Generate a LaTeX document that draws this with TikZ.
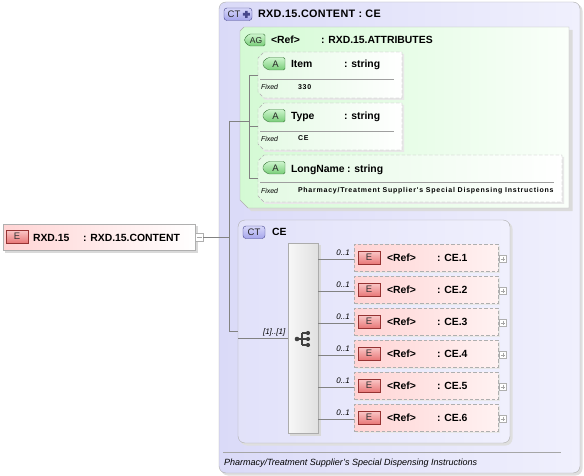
\documentclass[tikz,border=0pt]{standalone}
\usepackage{fontspec}
\setmainfont{Liberation Sans}
\newfontfamily\valfam[LetterSpace=11]{Liberation Sans}
\newfontfamily\ttlfam[LetterSpace=3]{Liberation Sans}
\usetikzlibrary{calc}
\definecolor{lavA}{RGB}{218,218,248}
\definecolor{lavB}{RGB}{240,240,253}
\definecolor{agA}{RGB}{212,250,212}
\definecolor{agB}{RGB}{250,255,250}
\definecolor{atA}{RGB}{228,250,228}
\definecolor{pinkA}{RGB}{255,212,212}
\definecolor{pinkB}{RGB}{255,242,242}
\definecolor{bdr}{RGB}{175,175,175}
\definecolor{ebA}{RGB}{232,120,120}
\definecolor{ebB}{RGB}{250,200,200}
\definecolor{ebD}{RGB}{150,50,50}
\definecolor{abA}{RGB}{120,205,120}
\definecolor{abB}{RGB}{205,245,205}
\definecolor{abD}{RGB}{60,120,60}
\definecolor{ctA}{RGB}{165,165,235}
\definecolor{ctB}{RGB}{215,215,250}
\definecolor{ctD}{RGB}{70,70,140}
\definecolor{cn}{RGB}{130,130,130}
\newcommand\hf{\fontsize{10.4}{13}\selectfont\bfseries}
\newcommand\ttlf{\ttlfam\fontsize{10.8}{13}\selectfont\bfseries}
\newcommand\fixf{\fontsize{7}{8}\selectfont\itshape}
\newcommand\valf{\valfam\fontsize{7}{8}\selectfont\bfseries}
\newcommand\occf{\fontsize{8}{9}\selectfont\itshape}
\newcommand\docf{\fontsize{9}{10}\selectfont\itshape}
\newcommand\bdgf{\fontsize{9.5}{10}\selectfont}
\tikzset{
  conn/.style={draw=cn, line width=0.6pt},
  lbl/.style={anchor=base west, inner sep=0, outer sep=0},
  boxnode/.style={inner sep=0, outer sep=0, anchor=north west},
  dsh/.style={dash pattern=on 3.5pt off 2pt},
  elembox/.style={boxnode, draw=bdr, dsh, left color=pinkA, right color=pinkB, minimum width=144pt, minimum height=27pt},
}
% E badge: x, top, name
\newcommand\ebadge[3]{%
  \node[boxnode, draw=ebD, top color=ebB, bottom color=ebA, minimum width=22pt, minimum height=13pt] (#3) at (#1,#2) {};
  \node[font=\bdgf, text=black!80, inner sep=0] (#3t) at (#3.center) {E};}
% A badge: x, ycenter, name
\newcommand\abadge[3]{%
  \path[draw=abD, top color=abB, bottom color=abA, rounded corners=1.5pt] (#1+5,#2-6.5) -- (#1+22,#2-6.5) -- (#1+22,#2+6) -- (#1+5,#2+6) -- (#1,#2+2) -- (#1,#2-2.5) -- cycle;
  \node[font=\bdgf, text=black!85, inner sep=0] (#3) at (#1+12.5,#2) {A};}
% attribute box: name, x1, y1, x2, y2, sep
\newcommand\attrbox[6]{%
  \fill[gray!18] (#2+7,#3+2) -- (#4+2,#3+2) -- (#4+2,#5+2) -- (#2+7,#5+2) -- (#2+2,#5-3) -- (#2+2,#3+7) -- cycle;
  \path[draw=bdr, dsh, left color=atA, right color=white] (#2+6,#3) -- (#4,#3) -- (#4,#5) -- (#2+6,#5) -- (#2,#5-6) -- (#2,#3+6) -- cycle;
  \node[boxnode, minimum width={(#4-#2)*1pt}, minimum height={(#5-#3)*1pt}] (#1) at (#2,#3) {};
  \draw[gray!75] (#2+2,#6) -- (#4-8,#6);}
% element: name, top, label
\newcommand\elem[3]{%
  \fill[gray!18] (356,#2+2) rectangle (500,#2+29);
  \node[elembox] (#1) at (354,#2) {};
  \ebadge{358}{#2+7}{#1b}
  \node[lbl, font=\hf] (#1r) at (387,#2+17.5) {<Ref>};
  \node[lbl, font=\hf] (#1n) at (437,#2+17.5) {: #3};
  \draw[bdr, fill=white] (499,#2+11) rectangle (506.5,#2+18.5);
  \draw[gray!70] (500.5,#2+14.75) -- (505,#2+14.75) (502.75,#2+12.5) -- (502.75,#2+17);
  \coordinate (#1p) at (354,#2+15);
  \draw[conn] (#1p -| seq.east) -- (#1p);
  \node[anchor=base east, inner sep=0, font=\occf] (#1o) at (350,#2+11) {0..1};}
\begin{document}
\begin{tikzpicture}[x=1pt,y=-1pt]
\useasboundingbox (0,0) rectangle (584,476);
\fill[white] (0,0) rectangle (584,476);

% ---------- outer complex type ----------
\fill[gray!25, rounded corners=7pt] (221,4) rectangle (582.5,475.5);
\node[boxnode, draw=bdr, rounded corners=7pt, left color=lavA, right color=lavB, minimum width=361pt, minimum height=471pt] (ct) at (219,2) {};
\path[draw=ctD, top color=ctB, bottom color=ctA, rounded corners=3pt] (224,8) rectangle (252,20.5);
\node[font=\bdgf, text=black!85, inner sep=0] (ctbt) at (234,14.4) {CT};
\fill[ctD] (242.8,13) rectangle (249.8,15.6) (245,10.8) rectangle (247.6,17.8);
\node[lbl, font=\ttlf] (cttitle) at (258,18) {RXD.15.CONTENT : CE};

% ---------- attribute group ----------
\fill[gray!28] (243,30) -- (572.5,30) -- (572.5,211) -- (251,211) -- (243,203) -- cycle;
\path[draw=bdr, left color=agA, right color=agB] (244,27) -- (569,27) -- (569,208) -- (248,208) -- (240,200) -- (240,31) -- cycle;
\node[boxnode, minimum width=329pt, minimum height=181pt] (ag) at (240,27) {};
\path[draw=abD, top color=abB, bottom color=abA, rounded corners=1.5pt] (249,34) -- (265,34) -- (265,46) -- (249,46) -- (244.5,41.5) -- (244.5,38.5) -- cycle;
\node[font=\fontsize{8.5}{9}\selectfont, text=black!85, inner sep=0] (agbt) at (256,40.2) {AG};
\node[lbl, font=\hf] (agref) at (271,44) {<Ref>};
\node[lbl, font=\hf] (agtype) at (321,44) {: RXD.15.ATTRIBUTES};

\attrbox{item}{258}{52}{402}{98}{79}
\abadge{263}{64}{itemb}
\node[lbl, font=\hf] (itemn) at (291,68) {Item};
\node[lbl, font=\hf] (itemt) at (344,68) {: string};
\node[lbl, font=\fixf] (itemf) at (261,90) {Fixed};
\node[lbl, font=\valf] (itemv) at (298,89.5) {330};

\attrbox{type}{258}{103}{402}{150}{131}
\abadge{263}{116}{typeb}
\node[lbl, font=\hf] (typen) at (291,120) {Type};
\node[lbl, font=\hf] (typet) at (344,120) {: string};
\node[lbl, font=\fixf] (typef) at (261,141.5) {Fixed};
\node[lbl, font=\valf] (typev) at (298,141) {CE};

\attrbox{long}{258}{155}{562}{202}{182}
\abadge{263}{168}{longb}
\node[lbl, font=\hf] (longn) at (291,172) {LongName};
\node[lbl, font=\hf] (longt) at (347,172) {: string};
\node[lbl, font=\fixf] (longf) at (261,193.5) {Fixed};
\node[lbl, font=\valf] (longv) at (298,193) {Pharmacy/Treatment Supplier's Special Dispensing Instructions};

\coordinate (agbus) at (249.5,0);
\draw[conn] (item.west) -- (item.west -| agbus) -- (long.west -| agbus) -- (long.west);
\draw[conn] (type.west) -- (type.west -| agbus);

% ---------- CE complex type ----------
\fill[gray!25, rounded corners=7pt] (240,222) rectangle (512.5,445.5);
\node[boxnode, draw=bdr, rounded corners=7pt, left color=lavA!80!white, right color=lavB, minimum width=272pt, minimum height=223pt] (ctce) at (238,220) {};
\path[draw=ctD, top color=ctB, bottom color=ctA, rounded corners=3pt] (243,226) rectangle (265,238.5);
\node[font=\bdgf, text=black!85, inner sep=0] (cebt) at (254,232.4) {CT};
\node[lbl, font=\hf] (cetitle) at (272,236) {CE};

% sequence
\fill[gray!30] (290,245) rectangle (320.5,435.5);
\node[boxnode, draw=gray!65, left color=gray!6, right color=gray!24, minimum width=30pt, minimum height=190pt] (seq) at (288,243) {};
\draw[black!75, line width=1.1pt] (297,339) -- (302,339) (302,333) -- (302,345) (302,333) -- (307,333) (302,339) -- (307,339) (302,345) -- (307,345);
\fill[black!75] (297,339) circle (2.3pt);
\fill[black!75] (308,333) circle (2.1pt) (308,339) circle (2.1pt) (308,345) circle (2.1pt);

\elem{e1}{244}{CE.1}
\elem{e2}{276}{CE.2}
\elem{e3}{308}{CE.3}
\elem{e4}{340}{CE.4}
\elem{e5}{372}{CE.5}
\elem{e6}{404}{CE.6}

% documentation
\draw[gray!70] (223,452) -- (561,452);
\node[lbl, font=\docf] (doc) at (224,465) {Pharmacy/Treatment Supplier's Special Dispensing Instructions};

% ---------- root element ----------
\fill[gray!30] (5,226) rectangle (197.5,252.5);
\node[boxnode, draw=bdr, left color=pinkA, right color=white, minimum width=192pt, minimum height=26pt] (root) at (3,224) {};
\ebadge{6}{230}{rootb}
\node[lbl, font=\hf] (rootn) at (33,241) {RXD.15};
\node[lbl, font=\hf] (roott) at (83,241) {: RXD.15.CONTENT};
\node[boxnode, draw=bdr, fill=white, minimum width=8pt, minimum height=8pt] (rootm) at (195,233) {};
\draw[gray!70] (196.5,237) -- (201.5,237);

% ---------- connectors ----------
\coordinate (bus) at (229.5,0);
\draw[conn] (rootm.east) -- (rootm.east -| bus);
\draw[conn] (bus |- 0,121) -- (bus |- 0,331) -- (ctce.west |- 0,331);
\draw[conn] (bus |- 0,121) -- (agbus |- 0,121);
\coordinate (seqin) at (seq.west);
\draw[conn] (ctce.west |- seqin) -- (seqin);
\node[anchor=base east, inner sep=0, font=\occf] (occ) at (285.5,334.5) {[1]..[1]};
\end{tikzpicture}
\end{document}
